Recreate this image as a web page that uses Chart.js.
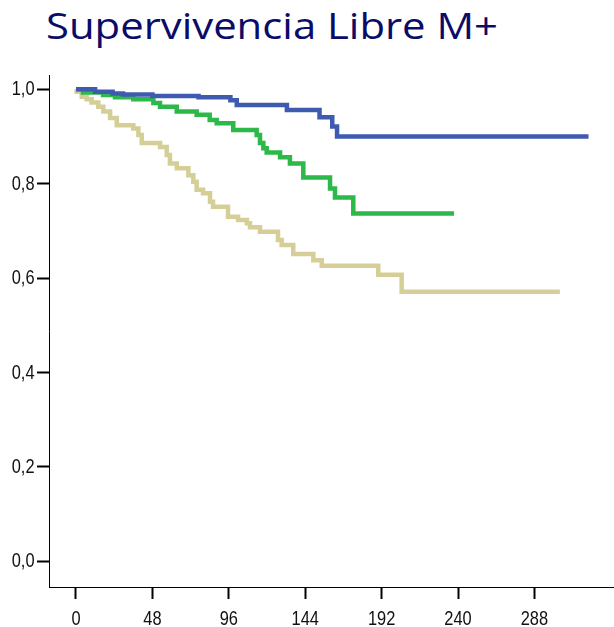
<!DOCTYPE html>
<html>
<head>
<meta charset="utf-8">
<script src="https://cdn.jsdelivr.net/npm/chart.js@4.4.1/dist/chart.umd.min.js"></script>
<style>
  html, body { margin: 0; padding: 0; background: #fff; }
  #wrap { position: relative; width: 614px; height: 627px; overflow: hidden; }
  #title {
    position: absolute; left: 46px; top: 6px;
    font-family: "Open Sans", Lato, sans-serif; font-size: 37px;
    color: #0b0b68; white-space: nowrap; line-height: 1;
    transform-origin: 0 0;
  }
  canvas { position: absolute; left: 0; top: 0; }
</style>
</head>
<body>
<div id="wrap">
  <div id="title">Supervivencia Libre M+</div>
  <canvas id="c" width="614" height="627"></canvas>
</div>
<script>
// Kaplan-Meier steps: time (months) and survival after each event
const timeBlue = [0, 12, 23, 29.5, 48, 77, 97, 101, 132.5, 153, 161, 164, 322];
const survBlue = [1.0, 0.995, 0.991, 0.989, 0.986, 0.983, 0.977, 0.967, 0.956, 0.941, 0.921, 0.900, 0.900];

const timeGreen = [0, 4.4, 17, 24.5, 36, 48.6, 52.8, 63.3, 75.8, 84, 88.4, 98.8, 113.5, 115.6, 117.7, 119.8, 128.2, 134.4, 142.8, 159.6, 162.7, 174.2, 237.5];
const survGreen = [1.0, 0.993, 0.988, 0.983, 0.979, 0.971, 0.963, 0.953, 0.946, 0.935, 0.928, 0.914, 0.903, 0.886, 0.875, 0.866, 0.856, 0.843, 0.813, 0.790, 0.771, 0.737, 0.737];

const timeTan = [0, 0.4, 3.6, 6.7, 9.8, 14, 17.2, 21.4, 25.6, 36, 39.2, 41.3, 52.8, 57, 59, 63.3, 70.6, 73.7, 75.8, 79.8, 84.2, 86.1, 95.5, 101.8, 107.4, 109.3, 115.6, 126.9, 129.2, 136.5, 149.1, 154.4, 189.9, 204.6, 304];
const survTan = [1.0, 0.995, 0.984, 0.979, 0.972, 0.963, 0.953, 0.939, 0.924, 0.917, 0.903, 0.886, 0.878, 0.861, 0.843, 0.833, 0.818, 0.804, 0.787, 0.780, 0.762, 0.751, 0.730, 0.723, 0.716, 0.708, 0.698, 0.681, 0.670, 0.651, 0.638, 0.626, 0.607, 0.571, 0.571];

const xTicks = [0, 48, 96, 144, 192, 240, 288];
const yTicks = [0, 0.2, 0.4, 0.6, 0.8, 1.0];
const fmtY = v => v.toFixed(1).replace('.', ',');

// Stretch the title to its full width
const titleEl = document.getElementById('title');
const titleW = titleEl.getBoundingClientRect().width;
titleEl.style.transform = 'scale(' + (452 / titleW) + ', 1)';

const toPoints = (ts, ss) => ts.map((t, i) => ({ x: t, y: ss[i] }));

// Tall, condensed axis numbers: drawn with a horizontal squeeze
const LABEL_FONT = '20px "Liberation Sans", Arial, sans-serif';
const SQUEEZE = 0.82;
const narrowLabels = {
  id: 'narrowLabels',
  afterDraw(chart) {
    const ctx = chart.ctx;
    const xs = chart.scales.x, ys = chart.scales.y;
    ctx.save();
    ctx.font = LABEL_FONT;
    ctx.fillStyle = '#111';
    ctx.textBaseline = 'middle';
    ctx.textAlign = 'right';
    yTicks.forEach(v => {
      ctx.save();
      ctx.translate(ys.right - 12 - 2.5, ys.getPixelForValue(v) + 0.5);
      ctx.scale(SQUEEZE, 1);
      ctx.fillText(fmtY(v), 0, 0);
      ctx.restore();
    });
    ctx.textAlign = 'center';
    ctx.textBaseline = 'alphabetic';
    xTicks.forEach(v => {
      ctx.save();
      ctx.translate(xs.getPixelForValue(v), xs.top + 12 + 26);
      ctx.scale(SQUEEZE, 1);
      ctx.fillText(String(v), 0, 0);
      ctx.restore();
    });
    ctx.restore();
  }
};

const curve = (data, color) => ({
  data, borderColor: color, backgroundColor: color,
  borderWidth: 4.5, stepped: 'before', pointRadius: 0, fill: false,
  borderJoinStyle: 'miter', borderCapStyle: 'butt', tension: 0
});

const axisGrid = { drawOnChartArea: false, drawTicks: true, tickLength: 12, tickWidth: 2, tickColor: '#000' };
const axisBorder = { display: true, color: '#000', width: 1 };

new Chart(document.getElementById('c'), {
  type: 'line',
  data: {
    datasets: [
      curve(toPoints(timeBlue, survBlue), '#3f5bb0'),
      curve(toPoints(timeGreen, survGreen), '#2db84a'),
      curve(toPoints(timeTan, survTan), '#d5cf97')
    ]
  },
  plugins: [narrowLabels],
  options: {
    responsive: false,
    animation: false,
    devicePixelRatio: 1,
    layout: { padding: { top: 75, left: 0, right: 0, bottom: 0 } },
    plugins: { legend: { display: false }, tooltip: { enabled: false }, title: { display: false } },
    scales: {
      x: {
        type: 'linear', min: -16.96, max: 338,
        afterBuildTicks: s => { s.ticks = xTicks.map(v => ({ value: v })); },
        afterFit: s => { s.height = 40; },
        ticks: { display: false },
        grid: axisGrid,
        border: axisBorder
      },
      y: {
        type: 'linear', min: -0.0544, max: 1.0303,
        afterBuildTicks: s => { s.ticks = yTicks.map(v => ({ value: v })); },
        afterFit: s => { s.width = 49; },
        ticks: { display: false },
        grid: axisGrid,
        border: axisBorder
      }
    }
  }
});
</script>
</body>
</html>
